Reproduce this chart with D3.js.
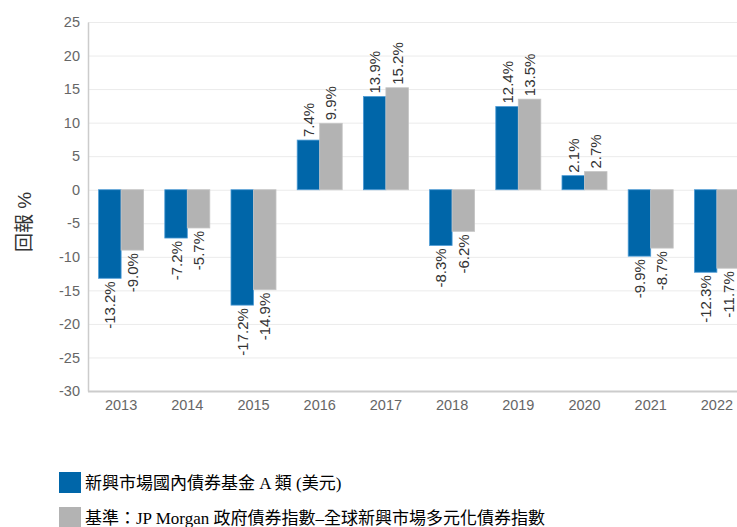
<!DOCTYPE html>
<html>
<head>
<meta charset="utf-8">
<script src="https://cdn.jsdelivr.net/npm/d3@7"></script>
<style>
  html, body { margin: 0; padding: 0; background: #fff; }
  svg { display: block; }
</style>
</head>
<body>
<svg id="chart" width="737" height="527"></svg>
<script>
// Calendar-year returns (%)
const years = ["2013", "2014", "2015", "2016", "2017", "2018", "2019", "2020", "2021", "2022"];
const fundReturns = [-13.2, -7.2, -17.2, 7.4, 13.9, -8.3, 12.4, 2.1, -9.9, -12.3];
const benchmarkReturns = [-9.0, -5.7, -14.9, 9.9, 15.2, -6.2, 13.5, 2.7, -8.7, -11.7];
const seriesNames = ["新興市場國內債券基金 A 類 (美元)", "基準：JP Morgan 政府債券指數–全球新興市場多元化債券指數"];
const seriesColors = ["#0066a9", "#b3b3b3"];
const yTicks = [25, 20, 15, 10, 5, 0, -5, -10, -15, -20, -25, -30];
const yTitle = "回報 %";

const svg = d3.select("#chart");
const plotLeft = 88, plotRight = 750, plotTop = 22, plotBottom = 391;
const sans = "Arial, 'Liberation Sans', sans-serif";

const y = d3.scaleLinear().domain([-30, 25]).range([plotBottom, plotTop]);
const x0 = d3.scaleBand().domain(years).range([plotLeft, plotRight])
  .paddingInner(0.32).paddingOuter(0.16);
const x1 = d3.scaleBand().domain([0, 1]).range([0, x0.bandwidth()]);

// gridlines
svg.append("g").selectAll("line").data(yTicks).join("line")
  .attr("x1", plotLeft).attr("x2", 737)
  .attr("y1", d => y(d) + 0.5).attr("y2", d => y(d) + 0.5)
  .attr("stroke", "#ebebeb").attr("stroke-width", 1);

// left axis
const yAxis = d3.axisLeft(y).tickValues(yTicks).tickSize(0).tickPadding(8)
  .tickFormat(d => String(d));
const gy = svg.append("g").attr("transform", `translate(${plotLeft},0)`).call(yAxis);
gy.select(".domain").attr("stroke", "#cccccc").attr("stroke-width", 1.5);
gy.selectAll("text").attr("font-family", sans).attr("font-size", 14.5).attr("fill", "#666");

// bottom axis
const xAxis = d3.axisBottom(x0).tickSize(0).tickPadding(9);
const gx = svg.append("g").attr("transform", `translate(0,${plotBottom})`).call(xAxis);
gx.select(".domain").attr("d", `M${plotLeft},0.5H737`).attr("stroke", "#cccccc").attr("stroke-width", 2);
gx.selectAll("text").attr("font-family", sans).attr("font-size", 14.5).attr("fill", "#666");

// bars
const rows = years.map((yr, i) => ({ year: yr, values: [fundReturns[i], benchmarkReturns[i]] }));
const groups = svg.append("g").selectAll("g").data(rows).join("g")
  .attr("transform", d => `translate(${x0(d.year)},0)`);

groups.selectAll("rect").data(d => d.values.map((v, k) => ({ v, k }))).join("rect")
  .attr("x", d => x1(d.k))
  .attr("width", x1.bandwidth())
  .attr("y", d => y(Math.max(0, d.v)))
  .attr("height", d => Math.abs(y(d.v) - y(0)))
  .attr("fill", d => seriesColors[d.k])
  .attr("stroke", d => d.k === 0 ? "#4d9bd6" : "#c4c4c4")
  .attr("stroke-width", 0.8);

// value labels, rotated
groups.selectAll("text.val").data(d => d.values.map((v, k) => ({ v, k }))).join("text")
  .attr("class", "val")
  .attr("transform", d => {
    const cx = x1(d.k) + x1.bandwidth() / 2 + 5.5;
    const cy = d.v >= 0 ? y(d.v) - 3 : y(d.v) + 3;
    return `translate(${cx},${cy}) rotate(-90)`;
  })
  .attr("text-anchor", d => d.v >= 0 ? "start" : "end")
  .attr("font-family", sans)
  .attr("font-size", 15)
  .attr("fill", "#333")
  .text(d => d.v.toFixed(1) + "%");

// y-axis title
svg.append("text")
  .attr("transform", "translate(31,222) rotate(-90)")
  .attr("text-anchor", "middle")
  .attr("font-family", "Arial, 'Noto Sans CJK TC', sans-serif")
  .attr("font-size", 19)
  .attr("fill", "#333")
  .text(yTitle);

// legend
const legend = svg.append("g");
const legendRows = [{ y: 472, base: 489 }, { y: 507, base: 524 }];
seriesNames.forEach((name, i) => {
  legend.append("rect").attr("x", 59).attr("y", legendRows[i].y)
    .attr("width", 22).attr("height", 21).attr("fill", seriesColors[i]);
  legend.append("text").attr("x", 85).attr("y", legendRows[i].base)
    .attr("font-family", "'Liberation Serif', 'Noto Sans CJK TC', serif")
    .attr("font-size", 17).attr("fill", "#000")
    .text(name);
});
</script>
</body>
</html>
